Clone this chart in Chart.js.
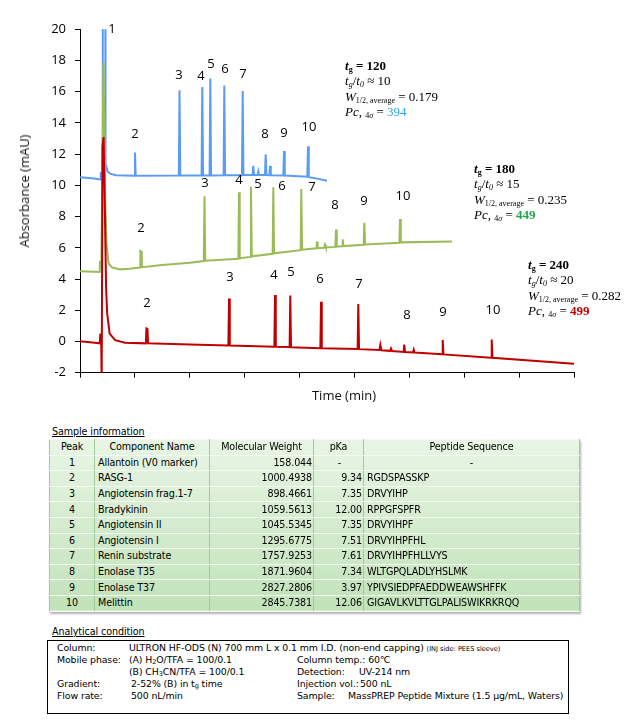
<!DOCTYPE html>
<html>
<head>
<meta charset="utf-8">
<script src="https://cdn.jsdelivr.net/npm/chart.js@4.4.1/dist/chart.umd.min.js"></script>
<style>
body{margin:0;background:#fff;width:630px;height:721px;position:relative;overflow:hidden;font-family:"DejaVu Sans",sans-serif;color:#000}
#wrap{position:absolute;left:0;top:0;width:630px;height:410px}
.abs{position:absolute;white-space:nowrap}
.ax{font-family:"Open Sans",sans-serif;font-size:13px;color:#111;line-height:16px}
.note{font-family:"Liberation Serif",serif;font-size:13px;line-height:15.3px}
.note sub{font-size:8px;vertical-align:-2px;line-height:0}
.cap{font-size:9.6px;letter-spacing:-0.1px;text-decoration:underline;line-height:12px}
#tbl{position:absolute;left:49px;top:439px;width:530px;border-collapse:collapse;table-layout:fixed;font-size:9.6px;letter-spacing:-0.15px;background:linear-gradient(#e8f5e4,#c1e2b9);border:1px solid #8cc285;box-shadow:1px 2px 2px rgba(0,0,0,.3)}
#tbl tr{height:15.6px}
#tbl td{padding:0 3px;line-height:12px;border-left:1px solid #9dcc96;border-right:1px solid #9dcc96;border-top:1px solid #f3faf1;border-bottom:1px solid #f3faf1;white-space:nowrap;overflow:hidden}
#box{position:absolute;left:47px;top:640px;width:522px;height:74px;border:1px solid #000;box-sizing:border-box}
.bx{font-size:9.4px;letter-spacing:-0.1px;line-height:12px}
.bx sub{font-size:6.5px;vertical-align:-1px;line-height:0}
.tiny{font-size:6.6px;letter-spacing:0}
</style>
</head>
<body>
<div id="wrap"><canvas id="chart"></canvas></div>

<div class="abs ax" style="left:24px;top:191px;transform:translate(-50%,-50%) rotate(-90deg)">Absorbance (mAU)</div>
<div class="abs ax" style="left:344px;top:395px;transform:translate(-50%,-50%)">Time (min)</div>

<div class="abs note" style="left:345px;top:58px">
<div><b><i>t</i><sub>g</sub> = 120</b></div>
<div><i>t<sub>g</sub></i>/<i>t<sub>0</sub></i> ≈ 10</div>
<div><i>W</i><sub>1/2, average</sub> = 0.179</div>
<div><i>Pc</i>, <sub>4<i>σ</i></sub> = <span style="color:#2aa6e3">394</span></div>
</div>
<div class="abs note" style="left:474px;top:161px">
<div><b><i>t</i><sub>g</sub> = 180</b></div>
<div><i>t<sub>g</sub></i>/<i>t<sub>0</sub></i> ≈ 15</div>
<div><i>W</i><sub>1/2, average</sub> = 0.235</div>
<div><i>Pc</i>, <sub>4<i>σ</i></sub> = <b style="color:#22a84a">449</b></div>
</div>
<div class="abs note" style="left:528px;top:257px">
<div><b><i>t</i><sub>g</sub> = 240</b></div>
<div><i>t<sub>g</sub></i>/<i>t<sub>0</sub></i> ≈ 20</div>
<div><i>W</i><sub>1/2, average</sub> = 0.282</div>
<div><i>Pc</i>, <sub>4<i>σ</i></sub> = <b style="color:#c00000">499</b></div>
</div>

<div class="abs cap" style="left:52px;top:426px">Sample information</div>
<table id="tbl"></table>

<div class="abs cap" style="left:52px;top:626px">Analytical condition</div>
<div id="box"></div>
<div class="abs bx" style="left:57px;top:642px">Column:</div>
<div class="abs bx" style="left:129px;top:642px">ULTRON HF-ODS (N) 700 mm L x 0.1 mm I.D. (non-end capping) <span class="tiny">(INJ side: PEES sleeve)</span></div>
<div class="abs bx" style="left:57px;top:654px">Mobile phase:</div>
<div class="abs bx" style="left:129px;top:654px">(A) H<sub>2</sub>O/TFA = 100/0.1</div>
<div class="abs bx" style="left:297px;top:654px">Column temp.: 60℃</div>
<div class="abs bx" style="left:129px;top:666px">(B) CH<sub>3</sub>CN/TFA = 100/0.1</div>
<div class="abs bx" style="left:297px;top:666px">Detection:</div>
<div class="abs bx" style="left:359px;top:666px">UV-214 nm</div>
<div class="abs bx" style="left:57px;top:678px">Gradient:</div>
<div class="abs bx" style="left:131px;top:678px">2-52% (B) in t<sub>g</sub> time</div>
<div class="abs bx" style="left:297px;top:678px">Injection vol.:</div>
<div class="abs bx" style="left:360px;top:678px">500 nL</div>
<div class="abs bx" style="left:57px;top:690px">Flow rate:</div>
<div class="abs bx" style="left:131px;top:690px">500 nL/min</div>
<div class="abs bx" style="left:297px;top:690px">Sample:</div>
<div class="abs bx" style="left:348px;top:690px">MassPREP Peptide Mixture (1.5 μg/mL, Waters)</div>

<script>
const C={blue:'#5B9BF2',green:'#9BBB59',red:'#C00000'};

// chromatograms: time (arbitrary axis 0-90) and absorbance (mAU)
const redT=[0,2.7,3.6,3.7,3.85,3.95,4.1,4.3,4.55,4.75,4.95,5.4,6.4,8.2,12.0,12.1,12.3,12.4,20,27.03,27.15,27.29,35.41,35.53,35.67,38.19,38.31,38.45,43.79,43.91,44.05,50.58,50.7,50.84,54.55,54.71,54.9,56.5,56.66,56.85,58.96,59.08,59.22,60.66,60.8,60.96,65.96,66.08,66.22,74.89,75.01,75.15,90];
const redAU=[0.02,-0.08,-0.12,0.45,0.45,-3,12.5,13.1,8,3.5,1.8,0.5,0.08,-0.08,-0.12,0.84,0.8,-0.12,-0.2,-0.25,2.76,-0.26,-0.33,2.98,-0.34,-0.36,2.94,-0.37,-0.43,2.55,-0.44,-0.48,2.4,-0.49,-0.55,-0.22,-0.56,-0.6,-0.45,-0.61,-0.67,-0.2,-0.68,-0.7,-0.52,-0.71,-0.82,0.1,-0.83,-1.04,0.13,-1.05,-1.43];

const greenT=[0,3.6,3.65,3.9,4.28,4.6,4.85,5.2,5.8,7.3,9,10.95,11.0,11.25,11.3,15,20,22.55,22.68,22.82,28.85,28.97,29.1,31.03,31.15,31.3,35.1,35.22,35.36,40.2,40.32,40.46,43.06,43.18,43.3,44.5,44.64,44.8,46.52,46.64,46.78,47.74,47.86,48.0,51.68,51.8,51.94,58.18,58.3,58.44,67.77];
const greenAU=[4.5,4.45,5.1,5.1,17.9,9,6.2,5.0,4.75,4.62,4.66,4.74,5.8,5.75,4.76,4.9,5.05,5.15,9.3,5.18,5.3,9.56,5.33,5.42,9.92,5.46,5.62,9.88,5.65,5.85,9.77,5.88,5.97,6.4,5.98,6.0,6.2,6.02,6.06,7.17,6.08,6.1,6.55,6.11,6.2,7.6,6.22,6.33,7.85,6.35,6.4];

const blueT=[0,2.2,3.7,3.8,4.1,4.15,4.6,4.65,5.0,5.5,6.5,9.9,10.02,10.15,18.0,18.13,18.27,22.15,22.28,22.42,23.61,23.74,23.88,26.16,26.29,26.43,29.51,29.64,29.78,31.44,31.57,31.71,32.35,32.48,32.62,33.7,33.83,33.97,34.49,34.62,34.76,37.04,37.17,37.31,41.41,41.54,41.68,43,45];
const blueAU=[10.52,10.45,10.38,10.8,10.8,26,26,11.4,10.9,10.75,10.65,10.62,12.1,10.62,10.63,16.1,10.63,10.64,16.3,10.64,10.64,16.85,10.64,10.65,16.4,10.65,10.65,16.05,10.66,10.66,11.25,10.66,10.66,10.9,10.66,10.66,12.0,10.66,10.65,11.25,10.65,10.63,12.2,10.63,10.55,12.5,10.53,10.45,10.3];

// peak number labels (anchor in data units)
const blueLabN=['1','2','3','4','5','6','7','8','9','10'];
const blueLabT=[5.83,10.02,18.04,22.04,23.87,26.42,29.7,33.71,37.17,41.72];
const blueLabY=[20.0,13.27,17.05,16.99,17.76,17.44,17.12,13.27,13.33,13.72];
const subLabN=['2','3','4','5','6','7','8','9','10'];
const greenLabT=[11.11,22.77,28.97,32.43,36.8,42.27,46.46,51.74,58.85];
const greenLabY=[7.24,10.13,10.32,10.06,9.94,9.87,8.72,8.97,9.29];
const redLabT=[12.21,27.33,35.34,38.44,43.73,50.83,59.58,66.14,75.25];
const redLabY=[2.44,4.1,4.23,4.42,3.97,3.65,1.67,1.86,1.99];

// sample information table
const peakNo=['1','2','3','4','5','6','7','8','9','10'];
const compName=['Allantoin (V0 marker)','RASG-1','Angiotensin frag.1-7','Bradykinin','Angiotensin II','Angiotensin I','Renin substrate','Enolase T35','Enolase T37','Melittin'];
const molWeight=['158.044','1000.4938','898.4661','1059.5613','1045.5345','1295.6775','1757.9253','1871.9604','2827.2806','2845.7381'];
const pKa=['-','9.34','7.35','12.00','7.35','7.51','7.61','7.34','3.97','12.06'];
const peptideSeq=['-','RGDSPASSKP','DRVYIHP','RPPGFSPFR','DRVYIHPF','DRVYIHPFHL','DRVYIHPFHLLVYS','WLTGPQLADLYHSLMK','YPIVSIEDPFAEDDWEAWSHFFK','GIGAVLKVLTTGLPALISWIKRKRQQ'];

function buildTable(){
  const t=document.getElementById('tbl');
  const w=[45,115,104,50,216];
  let h='<colgroup>'+w.map(v=>`<col style="width:${v}px">`).join('')+'</colgroup>';
  h+='<tr>'+['Peak','Component Name','Molecular Weight','pKa','Peptide Sequence'].map(s=>`<td style="text-align:center">${s}</td>`).join('')+'</tr>';
  peakNo.forEach((p,i)=>{
    const dash=pKa[i]==='-';
    h+=`<tr><td style="text-align:center">${p}</td><td>${compName[i]}</td><td style="text-align:right;padding-right:1px">${molWeight[i]}</td>`+
       `<td style="text-align:${dash?'center':'right'};padding-right:1px">${pKa[i]}</td><td style="text-align:${dash?'center':'left'}">${peptideSeq[i]}</td></tr>`;
  });
  t.innerHTML=h;
}

function series(t,v,col){
  return{data:t.map((x,i)=>({x,y:v[i]})),borderColor:col,borderWidth:2,pointRadius:0,tension:0,fill:false,parsing:false};
}

const peakLabels={
  id:'peakLabels',
  afterDatasetsDraw(c){
    const {ctx,scales:{x,y}}=c;
    const groups=[[blueLabN,blueLabT,blueLabY],[subLabN,greenLabT,greenLabY],[subLabN,redLabT,redLabY]];
    ctx.save();
    ctx.font="13px 'Open Sans'";ctx.fillStyle='#000';ctx.textAlign='center';ctx.textBaseline='middle';
    groups.forEach(([n,t,v])=>t.forEach((tt,i)=>ctx.fillText(n[i],x.getPixelForValue(tt),y.getPixelForValue(v[i]))));
    ctx.restore();
  }
};

function initChart(){
  Chart.defaults.font.family="'Open Sans'";
  new Chart(document.getElementById('chart'),{
    type:'line',
    data:{datasets:[series(redT,redAU,C.red),series(greenT,greenAU,C.green),series(blueT,blueAU,C.blue)]},
    options:{
      responsive:true,maintainAspectRatio:false,animation:false,events:[],
      layout:{padding:{top:29.3,right:56,left:0,bottom:0}},
      plugins:{legend:{display:false},tooltip:{enabled:false}},
      scales:{
        x:{type:'linear',min:0,max:90,ticks:{display:false,stepSize:10},
           grid:{drawOnChartArea:false,tickLength:5,color:'#000'},border:{color:'#000'},
           afterFit:s=>{s.height=37.3;}},
        y:{min:-2,max:20,ticks:{stepSize:2,color:'#000',font:{size:13},padding:9},
           grid:{drawOnChartArea:false,tickLength:5,color:'#000'},border:{color:'#000'},
           afterFit:s=>{s.width=80;}}
      }
    },
    plugins:[peakLabels]
  });
}

buildTable();
initChart();
</script>
</body>
</html>
